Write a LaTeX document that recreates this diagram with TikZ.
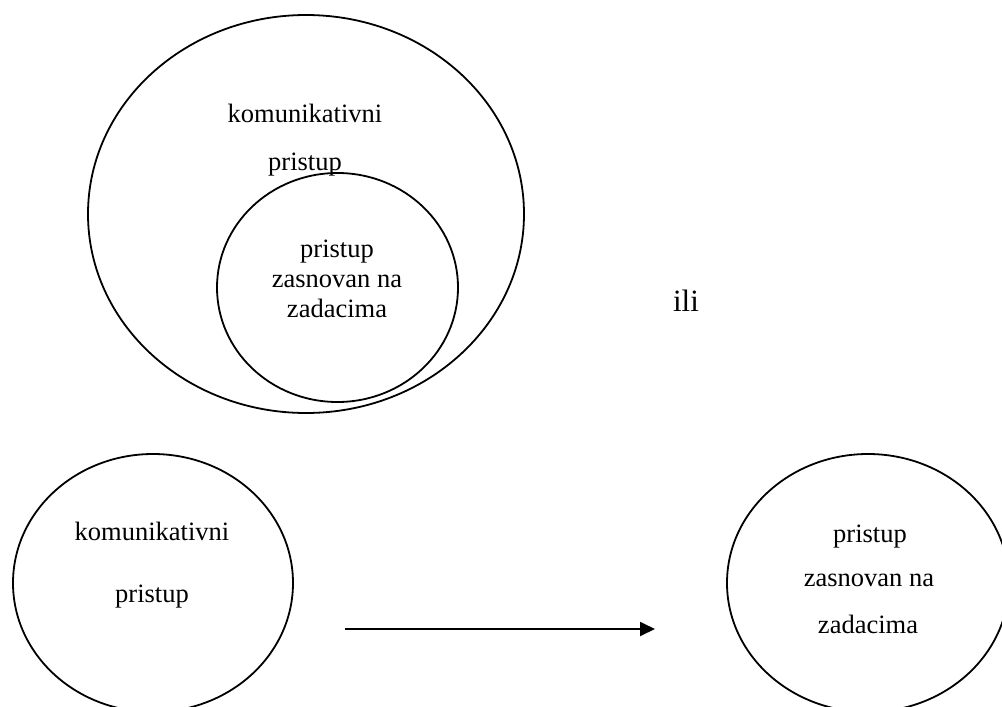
\documentclass[tikz,border=0pt]{standalone}
\usepackage{fontspec}
\setmainfont{Liberation Serif}
\usetikzlibrary{shapes.geometric,arrows.meta}
\begin{document}
\begin{tikzpicture}[x=1pt,y=-1pt,
  ring/.style={draw=black,line width=1.8pt,ellipse,inner sep=0pt},
  lbl/.style={anchor=base,inner sep=0pt,font=\fontsize{26.5}{30}\selectfont},
  big/.style={anchor=base,inner sep=0pt,font=\fontsize{31}{36}\selectfont}]
\useasboundingbox (0,0) rectangle (1002,707);
% top group
\node[ring,minimum width=436pt,minimum height=398pt] (outer) at (306,214) {};
\node[ring,minimum width=241pt,minimum height=229pt] (inner) at (337.5,287.5) {};
\node[lbl] (t1) at (305,122.5) {komunikativni};
\node[lbl] (t2) at (305,170) {pristup};
\node[lbl] (t3) at (337,257) {pristup};
\node[lbl] (t4) at (337,287) {zasnovan na};
\node[lbl] (t5) at (337,317) {zadacima};
\node[big] (ili) at (686,311) {ili};
% bottom group
\node[ring,minimum width=280pt,minimum height=258pt] (left) at (153,583) {};
\node[lbl] (b1) at (152,540) {komunikativni};
\node[lbl] (b2) at (152,602) {pristup};
\node[ring,minimum width=282pt,minimum height=258pt] (right) at (868,583) {};
\node[lbl] (r1) at (870,542) {pristup};
\node[lbl] (r2) at (869,586) {zasnovan na};
\node[lbl] (r3) at (868,633) {zadacima};
\coordinate (a0) at (345,629);
\coordinate (a1) at (655,629);
\draw[line width=1.8pt,-{Triangle[length=15pt,width=14pt]}] (a0) -- (a1);
\end{tikzpicture}
\end{document}
